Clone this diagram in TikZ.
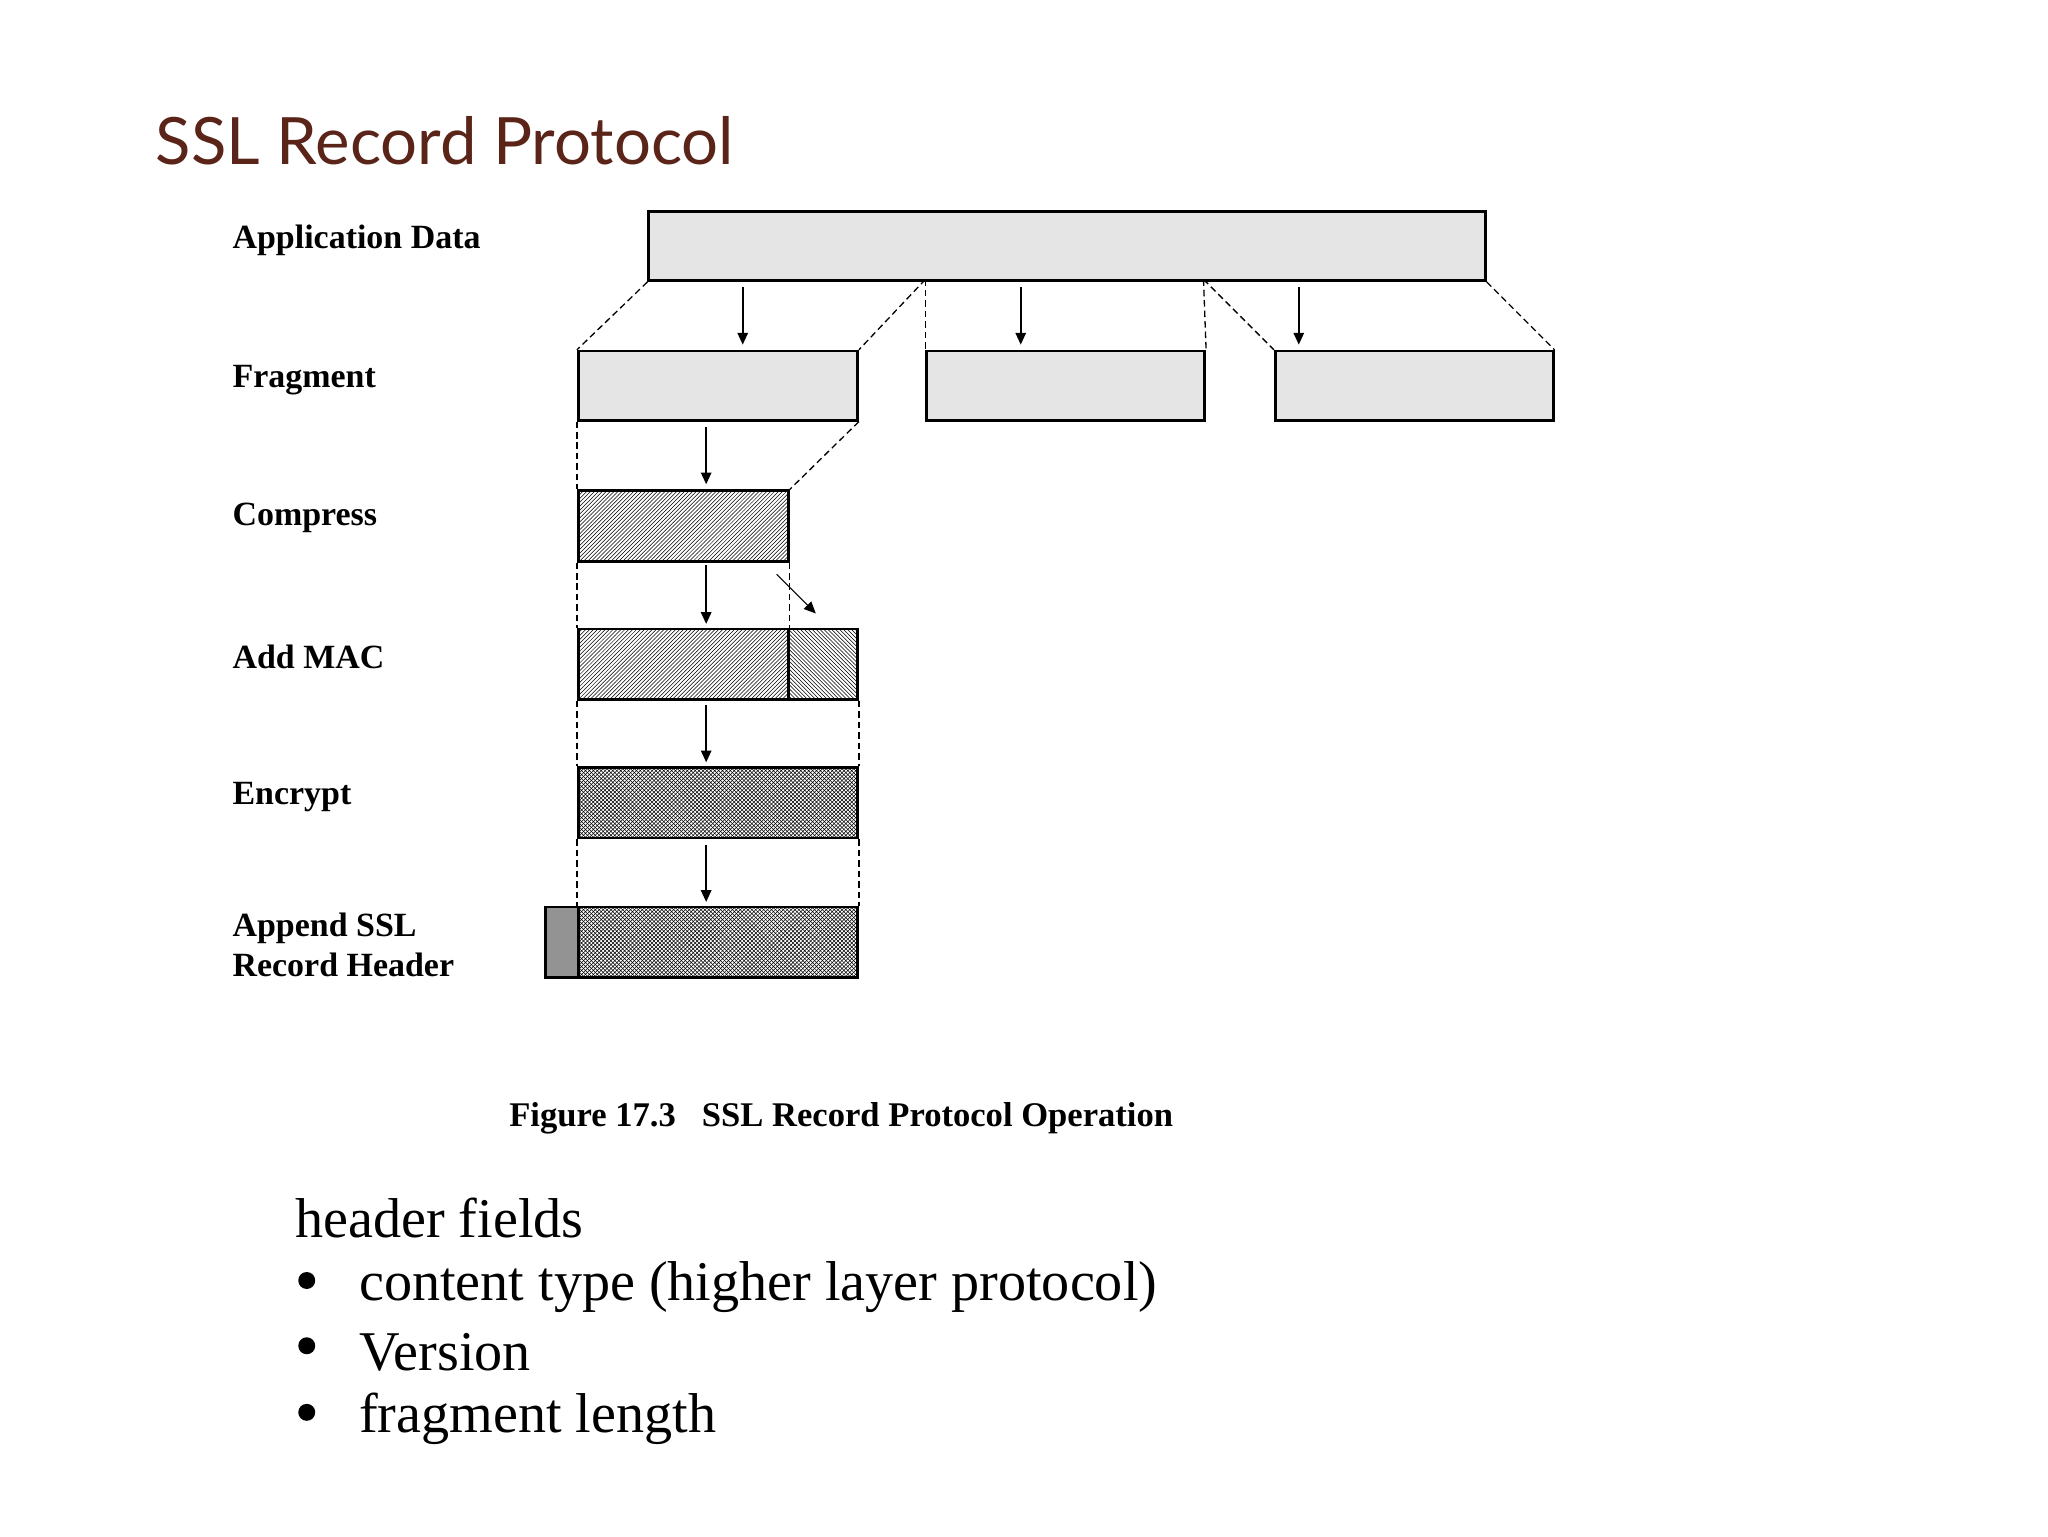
\documentclass[tikz,border=0pt]{standalone}
\usepackage{fontspec}
\setmainfont{Liberation Serif}
\newfontfamily\titlefont{Lato}
\usetikzlibrary{patterns,arrows.meta}
\definecolor{titlec}{HTML}{5A2418}
\begin{document}
\begin{tikzpicture}[x=1pt,y=-1pt,
 box/.style={draw,line width=2pt,inner sep=0,anchor=north west,fill=gray!20},
 lbl/.style={anchor=west,inner sep=0,font=\fontsize{26}{31}\selectfont\bfseries,align=left},
 dsh/.style={dash pattern=on 5pt off 3pt,line width=1pt},
 arr/.style={-{Triangle[length=9pt,width=8pt]},line width=1.2pt}]
\useasboundingbox (0,0) rectangle (1569,1177);
\node[anchor=west,inner sep=0,font=\titlefont\fontsize{50}{56}\selectfont,text=titlec] (title) at (119,108) {SSL Record Protocol};
\node[lbl] (l1) at (178,184) {Application Data};
\node[lbl] (l2) at (178,291) {Fragment};
\node[lbl] (l3) at (178,397) {Compress};
\node[lbl] (l4) at (178,503) {Add MAC};
\node[lbl] (l5) at (178,611) {Encrypt};
\node[lbl] (l6) at (178,724) {Append SSL\\Record Header};
\node[box,minimum width=641pt,minimum height=53pt] (app) at (496,161) {};
\node[box,minimum width=214pt,minimum height=53pt] (f1) at (442,268) {};
\node[box,minimum width=213pt,minimum height=53pt] (f2) at (709,268) {};
\node[box,minimum width=213pt,minimum height=53pt] (f3) at (976,268) {};
\node[box,fill=none,pattern=north east lines,minimum width=161pt,minimum height=54pt] (c) at (442,375) {};
\node[box,fill=none,pattern=north east lines,minimum width=161pt,minimum height=54pt] (m1) at (442,481) {};
\node[box,fill=none,pattern=north west lines,minimum width=53pt,minimum height=54pt] (m2) at (603,481) {};
\node[box,fill=none,pattern=crosshatch,minimum width=214pt,minimum height=54pt] (e) at (442,587) {};
\node[box,fill=gray!85,minimum width=25pt,minimum height=54pt] (h) at (417,694) {};
\node[box,fill=none,pattern=crosshatch,minimum width=214pt,minimum height=54pt] (p) at (442,694) {};
\coordinate (a2) at (709,214); \coordinate (a3) at (922,214);
\draw[dsh] (app.south west) -- (f1.north west);
\draw[dsh] (a2) -- (f1.north east);
\draw[dsh] (a2) -- (f2.north west);
\draw[dsh] (a3) -- (f2.north east);
\draw[dsh] (a3) -- (f3.north west);
\draw[dsh] (app.south east) -- (f3.north east);
\draw[arr] (569,220) -- (569,264);
\draw[arr] (782,220) -- (782,264);
\draw[arr] (995,220) -- (995,264);
\draw[dsh] (f1.south west) -- (c.north west);
\draw[dsh] (f1.south east) -- (c.north east);
\draw[arr] (541,327) -- (541,371);
\draw[dsh] (c.south west) -- (m1.north west);
\draw[dsh] (c.south east) -- (m1.north east);
\draw[arr] (541,433) -- (541,478);
\draw[arr,line width=0.8pt] (595,440) -- (625,470);
\draw[dsh] (m1.south west) -- (e.north west);
\draw[dsh] (m2.south east) -- (e.north east);
\draw[arr] (541,540) -- (541,584);
\draw[dsh] (e.south west) -- (p.north west);
\draw[dsh] (e.south east) -- (p.north east);
\draw[arr] (541,647) -- (541,691);
\node[anchor=west,inner sep=0,font=\fontsize{26.5}{30}\selectfont\bfseries] (cap) at (390,857) {Figure 17.3\hspace{20pt}SSL Record Protocol Operation};
\node[anchor=west,inner sep=0,font=\fontsize{43}{48}\selectfont] (hf) at (226,933) {header fields};
\foreach \y/\t/\n in {986/content type (higher layer protocol)/b1,1036/Version/b2,1087/fragment length/b3}{
 \fill (235,\y-5) circle (6.5pt);
 \node[anchor=west,inner sep=0,font=\fontsize{43}{48}\selectfont] (\n) at (275,\y) {\t};
}
\end{tikzpicture}
\end{document}
